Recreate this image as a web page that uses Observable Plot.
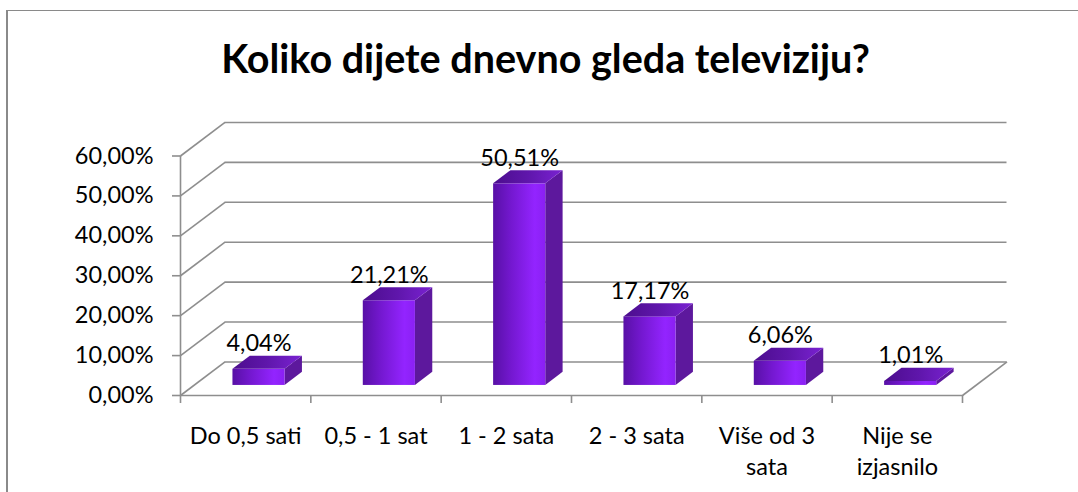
<!DOCTYPE html>
<html><head><meta charset="utf-8">
<script src="https://cdn.jsdelivr.net/npm/d3@7"></script>
<script src="https://cdn.jsdelivr.net/npm/@observablehq/plot@0.6"></script>
<style>
html,body{margin:0;padding:0;background:#fff;}
#wrap{position:relative;width:1078px;height:492px;overflow:hidden;}
#border{position:absolute;left:6px;top:10px;width:2000px;height:2000px;border-left:2px solid #8a8a8a;border-top:1.5px solid #8a8a8a;}
#chart{position:absolute;left:0;top:0;}
</style>
</head><body><div id="wrap"><div id="border"></div><div id="chart"></div></div>
<script>
const title = "Koliko dijete dnevno gleda televiziju?";
const categories = ["Do 0,5 sati", "0,5 - 1 sat", "1 - 2 sata", "2 - 3 sata", "Više od 3\nsata", "Nije se\nizjasnilo"];
const values = [4.04, 21.21, 50.51, 17.17, 6.06, 1.01];
const yTicks = [0, 10, 20, 30, 40, 50, 60];

// 3D depth (in data units): full depth of the box
const DX = 44.5 / 130.33;
const DY = 8.4;
const d0 = 0.30, d1 = 0.69;      // bar front / back depth fraction
const bw0 = 0.30, bw1 = 0.70;    // bar span within category

const fmtPct = v => v.toFixed(2).replace(".", ",") + "%";

const bars = values.map((v, i) => ({
  i, v,
  xl: i + bw0 + d0 * DX, xr: i + bw1 + d0 * DX,
  yb: d0 * DY, yt: v + d0 * DY
}));
const dd = d1 - d0;
const sidePts = bars.flatMap(b => [
  {i: b.i, x: b.xr, y1: b.yb, y2: b.yt},
  {i: b.i, x: b.xr + dd * DX, y1: b.yb + dd * DY, y2: b.yt + dd * DY}
]);
const topPts = bars.flatMap(b => [
  {i: b.i, y: b.yt, x1: b.xl, x2: b.xr},
  {i: b.i, y: b.yt + dd * DY, x1: b.xl + dd * DX, x2: b.xr + dd * DX}
]);

const grid = "#8e8e8e";
const FONT = "Lato, 'Noto Sans', sans-serif";

const plot = Plot.plot({
  width: 1078, height: 492,
  marginLeft: 180, marginRight: 116, marginTop: 155.5, marginBottom: 97,
  x: {domain: [0, 6]},
  y: {domain: [0, 60]},
  style: {fontFamily: FONT, background: "transparent", overflow: "visible"},
  marks: [
    // back wall gridlines
    Plot.ruleY(yTicks, {y: d => d + DY, x1: () => DX, x2: () => 6 + DX, stroke: grid, strokeWidth: 1.6}),
    // side wall diagonals
    Plot.link(yTicks, {x1: () => 0, y1: d => d, x2: () => DX, y2: d => d + DY, stroke: grid, strokeWidth: 1.6}),
    // floor right edge
    Plot.link([0], {x1: () => 6, y1: () => 0, x2: () => 6 + DX, y2: () => DY, stroke: grid, strokeWidth: 1.6}),
    // front axes lines
    Plot.ruleY([0], {x1: () => 0, x2: () => 6, stroke: grid, strokeWidth: 1.6}),
    Plot.ruleX([0], {y1: () => 0, y2: () => 60, stroke: grid, strokeWidth: 1.6}),
    Plot.axisY({ticks: yTicks, tickFormat: fmtPct, tickSize: 8, tickPadding: 19, stroke: grid, strokeWidth: 1.6, fill: "#000", fontSize: 23.5, label: null}),
    Plot.axisX({ticks: d3.range(0, 7), tickFormat: () => "", tickSize: 8, stroke: grid, strokeWidth: 1.6, label: null}),
    // category labels
    Plot.text(categories, {x: (d, i) => i + 0.5, y: () => 0, text: d => d, lineAnchor: "top", dy: 26, fontSize: 23.5, lineHeight: 1.33, fill: "#000"}),
    // bars: side, front, top
    Plot.areaY(sidePts, {x: "x", y1: "y1", y2: "y2", z: "i", fill: "#5d189d", curve: "linear"}),
    Plot.rect(bars, {x1: "xl", x2: "xr", y1: "yb", y2: "yt", fill: "url(#gFront)"}),
    Plot.areaX(topPts, {y: "y", x1: "x1", x2: "x2", z: "i", fill: "url(#gTop)", curve: "linear"}),
    // value labels
    Plot.text(bars, {x: d => d.i + 0.5 + d0 * DX, y: d => d.v + d1 * DY, text: d => fmtPct(d.v), lineAnchor: "bottom", dy: -5, fontSize: 23.5, fill: "#000"}),
    // title
    Plot.text([title], {frameAnchor: "top", dx: -26, dy: 72 - 155.5, lineAnchor: "bottom", fontSize: 39.5, fontWeight: "bold", fill: "#000"})
  ]
});

const svg = d3.select(plot);
const defs = svg.insert("defs", ":first-child");
const gf = defs.append("linearGradient").attr("id", "gFront").attr("x1", 0).attr("x2", 1).attr("y1", 0).attr("y2", 0);
[[0, "#5810a6"], [0.35, "#7418d0"], [0.8, "#9324ff"], [1, "#8a20f2"]].forEach(([o, c]) => gf.append("stop").attr("offset", o).attr("stop-color", c));
const gt = defs.append("linearGradient").attr("id", "gTop").attr("x1", 0).attr("x2", 1).attr("y1", 0).attr("y2", 0);
[[0, "#4c0d8e"], [0.5, "#5f16ab"], [1, "#7a22d2"]].forEach(([o, c]) => gt.append("stop").attr("offset", o).attr("stop-color", c));

document.getElementById("chart").appendChild(plot);
</script>
</body></html>
